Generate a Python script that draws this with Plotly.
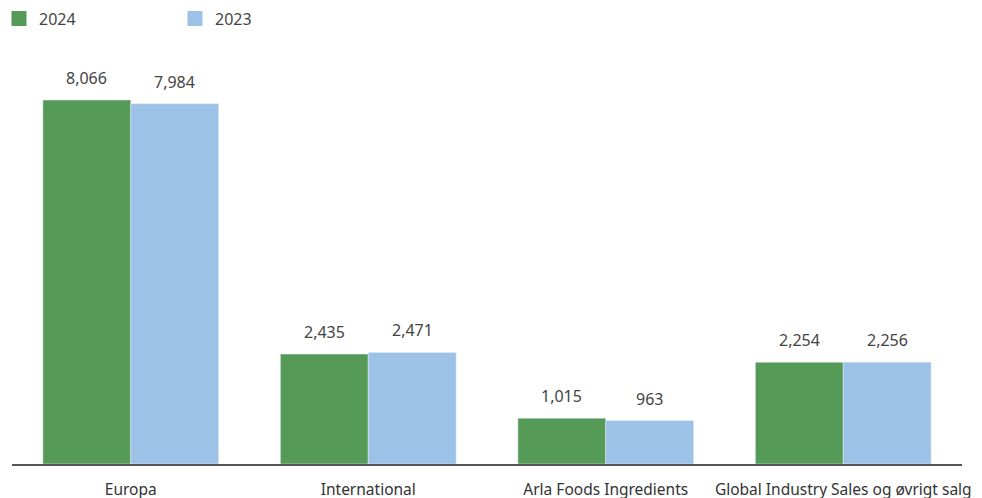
import plotly.graph_objects as go

categories = ["Europa", "International", "Arla Foods Ingredients", "Global Industry Sales og øvrigt salg"]
values_2024 = [8066, 2435, 1015, 2254]
values_2023 = [7984, 2471, 963, 2256]

green = "#559a57"
blue = "#9cc2e7"
txt = "#444444"
font_family = "Noto Sans, Open Sans, sans-serif"

fig = go.Figure()
fig.add_trace(go.Bar(x=categories, y=values_2024, name="2024", marker_color=green, showlegend=False))
fig.add_trace(go.Bar(x=categories, y=values_2023, name="2023", marker_color=blue, showlegend=False))

# legend entries with bigger square swatches
for name, col in (("2024", green), ("2023", blue)):
    fig.add_trace(go.Scatter(x=[None], y=[None], mode="markers", name=name,
                             marker=dict(symbol="square", size=15, color=col)))

# value labels above each bar
annotations = []
for i, (a, b) in enumerate(zip(values_2024, values_2023)):
    for off, v in ((-0.185, a), (0.185, b)):
        annotations.append(dict(
            x=i + off, y=v, xref="x", yref="y", text=f"{v:,}",
            showarrow=False, yshift=22, font=dict(size=16, color=txt, family=font_family),
        ))

# page body has an 8px margin, so the figure is laid out 8px up/left of the target
fig.update_layout(
    width=982, height=498,
    plot_bgcolor="white", paper_bgcolor="white",
    barmode="group", bargap=0.26, bargroupgap=0,
    margin=dict(l=4, r=28, t=42, b=42, autoexpand=False),
    font=dict(family=font_family, color=txt, size=16),
    legend=dict(orientation="h", xref="paper", yref="paper",
                x=-0.0137, y=1.117, xanchor="left", yanchor="top",
                font=dict(size=16), itemwidth=30, entrywidth=131,
                traceorder="normal"),
    annotations=annotations,
    showlegend=True,
)
fig.update_xaxes(
    range=[-0.5, 3.5], showline=True, linecolor="#555555", linewidth=2,
    ticks="", tickfont=dict(size=15.5, color="#333333"), ticklabelstandoff=10,
    automargin=False,
)
fig.update_yaxes(range=[0, 9174], visible=False, showgrid=False, automargin=False)

fig.write_html("out.html")
